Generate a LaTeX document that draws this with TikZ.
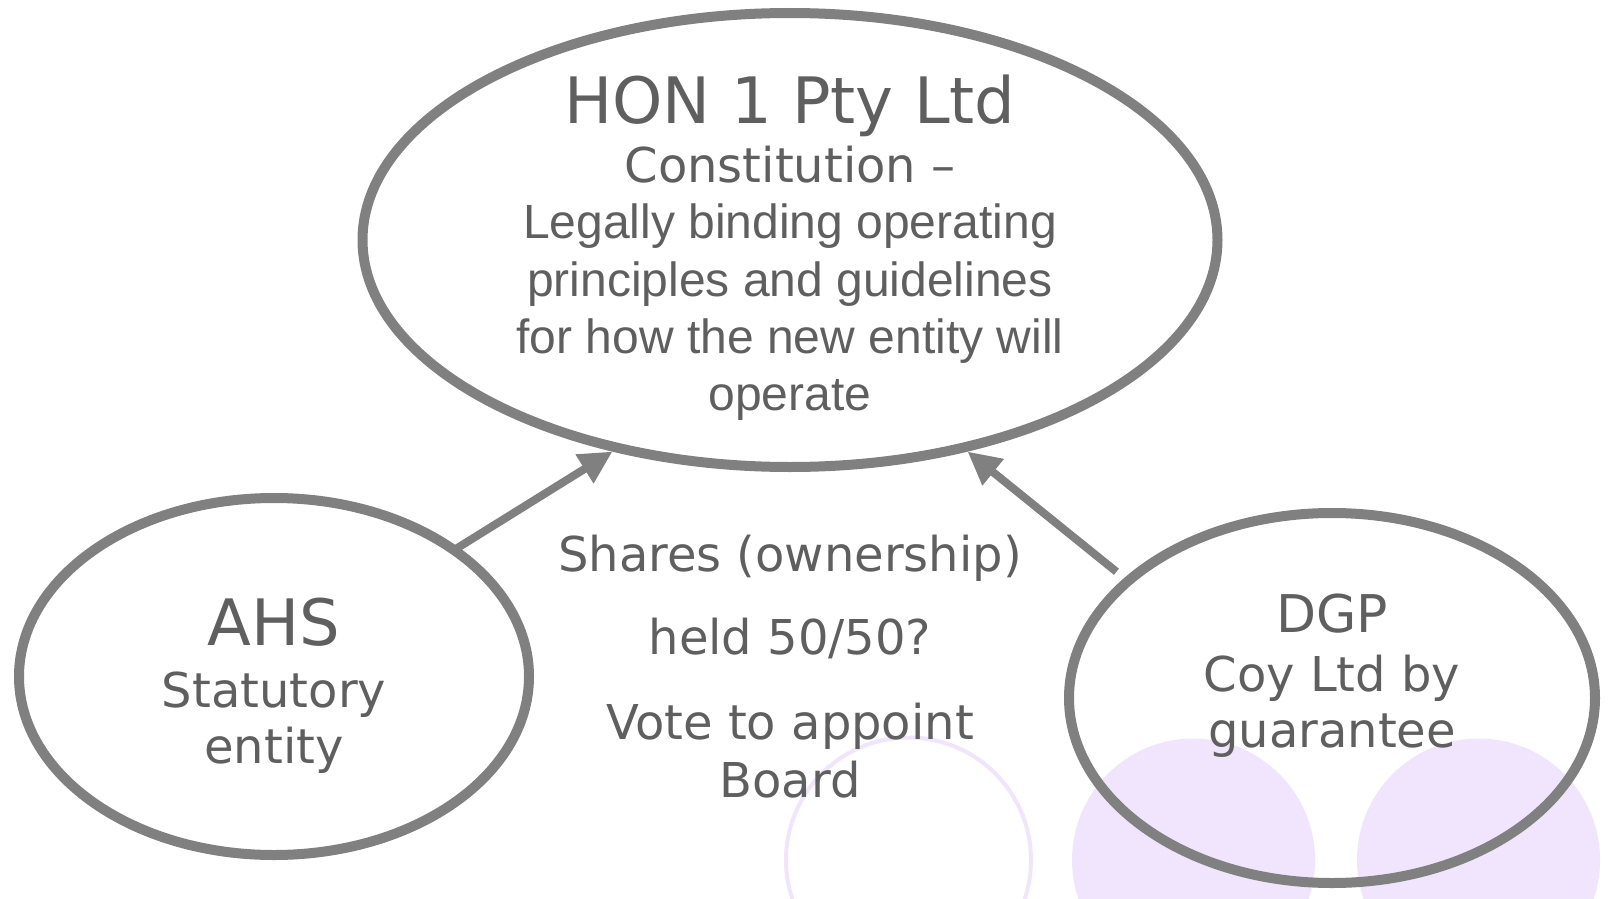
\documentclass[tikz,border=0pt]{standalone}
\usepackage{fontspec}
\setmainfont{DejaVu Sans}
\newfontfamily\arialf{Liberation Sans}
\usetikzlibrary{arrows.meta,shapes.geometric}
\definecolor{txt}{RGB}{95,95,95}
\definecolor{strk}{RGB}{128,128,128}
\definecolor{lilac}{RGB}{240,229,252}
\begin{document}
\begin{tikzpicture}[x=1pt,y=-1pt,
 oval/.style={ellipse, draw=strk, line width=10pt, inner sep=0pt},
 lbl/.style={anchor=base, text=txt, inner sep=0pt},
 big/.style={lbl, font=\fontsize{64}{70}\selectfont},
 dgpfont/.style={lbl, font=\fontsize{52}{60}\selectfont},
 mid/.style={lbl, font=\fontsize{48}{56}\selectfont},
 sans/.style={lbl, font=\arialf\fontsize{48}{56}\selectfont},
 link/.style={draw=strk, line width=8pt, -{Triangle[length=33pt,width=32pt]}},
 blob/.style={fill=lilac},
 ring/.style={draw=lilac, line width=4pt},
]
\useasboundingbox (0,0) rectangle (1612,899);
% background circles
\fill[blob] (1193.5,860) circle[radius=121.5];
\fill[blob] (1478.5,860) circle[radius=121.5];
\draw[ring] (908.5,860) circle[radius=122.5];
% ellipses
\node[oval, minimum width=855pt, minimum height=454pt] (hon) at (790,240) {};
\node[oval, minimum width=510pt, minimum height=357pt] (ahs) at (274,676.5) {};
\node[oval, minimum width=526pt, minimum height=370pt] (dgp) at (1332,698) {};
% connectors
\draw[link, shorten <=-6pt] (ahs.35) -- (hon.230);
\draw[link, shorten <=10pt] (dgp.150) -- (hon.310);
% texts in HON
\node[big] (t1) at (790,123) {HON 1 Pty Ltd};
\node[mid] (t2) at (790,182) {Constitution –};
\node[sans] (t3) at (790,238) {Legally binding operating};
\node[sans] (t4) at (790,296) {principles and guidelines};
\node[sans] (t5) at (790,353) {for how the new entity will};
\node[sans] (t6) at (790,410) {operate};
% middle texts
\node[mid] (m1) at (790,571) {Shares (ownership)};
\node[mid] (m2) at (790,654) {held 50/50?};
\node[mid] (m3) at (790,739) {Vote to appoint};
\node[mid] (m4) at (790,797) {Board};
% AHS
\node[big] (a1) at (274,645) {AHS};
\node[mid] (a2) at (274,707) {Statutory};
\node[mid] (a3) at (274,763) {entity};
% DGP
\node[dgpfont] (d1) at (1332,632) {DGP};
\node[mid] (d2) at (1332,691) {Coy Ltd by};
\node[mid] (d3) at (1332,747) {guarantee};
\end{tikzpicture}
\end{document}
